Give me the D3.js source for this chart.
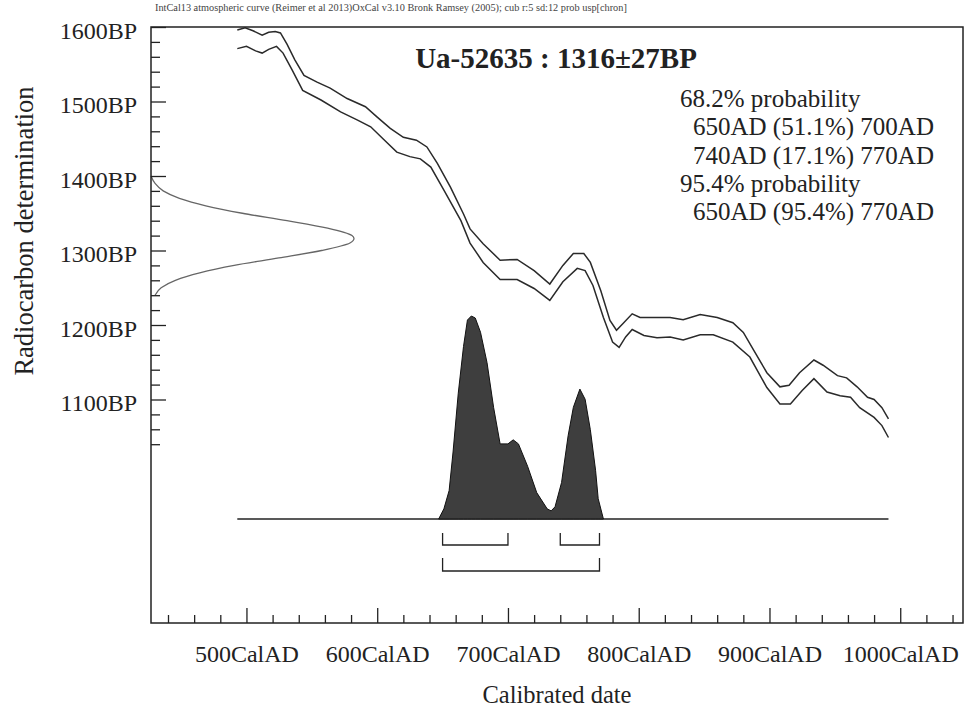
<!DOCTYPE html>
<html><head><meta charset="utf-8">
<script src="https://cdn.jsdelivr.net/npm/d3@7"></script>
<style>
body{margin:0;background:#fff}
svg{display:block}
text{font-family:"Liberation Serif","Times New Roman",serif;fill:#222}
</style>
</head><body>
<svg id="c" width="968" height="711"></svg>
<script>
// ---------- data ----------
const headerText = "IntCal13 atmospheric curve (Reimer et al 2013)OxCal v3.10 Bronk Ramsey (2005); cub r:5 sd:12 prob usp[chron]";
const titleText = "Ua-52635 : 1316\u00B127BP";
const xAxisTitle = "Calibrated date";
const yAxisTitle = "Radiocarbon determination";

const xDomain = [427, 1048];
const yDomain = [800, 1600];
const xTickYears = [500, 600, 700, 800, 900, 1000];
const xTickLabels = ["500CalAD", "600CalAD", "700CalAD", "800CalAD", "900CalAD", "1000CalAD"];
const xMinorStep = 20;
const yTickBP = [1600, 1500, 1400, 1300, 1200, 1100];
const yTickLabels = ["1600BP", "1500BP", "1400BP", "1300BP", "1200BP", "1100BP"];
const yMinorRange = [1040, 1600];
const yMinorStep = 20;

// calibration curve (mean + 1 sigma)
const upperYears = [493,499,505,512,517,522,526,531,537,544,554,564,577,591,600,610,620,630,638,646,656,666,671,681,694,707,720,732,742,750,758,763,771,778,783,788,795,801,814,824,834,847,860,872,880,888,898,908,915,923,934,941,952,959,967,975,980,986,991];
const upperBP    = [1596,1599,1595,1589,1593,1594,1592,1577,1556,1535,1526,1518,1504,1493,1479,1464,1452,1448,1439,1417,1385,1349,1329,1309,1287,1288,1273,1255,1280,1296,1296,1284,1246,1206,1193,1202,1215,1210,1210,1210,1207,1214,1210,1203,1190,1166,1136,1117,1119,1136,1153,1146,1132,1129,1117,1103,1100,1089,1074];
// calibration curve (mean - 1 sigma)
const lowerYears = [493,500,507,512,517,523,528,535,543,557,572,585,595,605,615,625,633,641,651,664,671,681,694,707,720,732,742,753,759,765,773,780,785,790,795,804,814,824,834,847,857,872,885,898,908,916,925,934,944,954,962,969,980,986,991];
const lowerBP    = [1571,1574,1568,1565,1570,1574,1565,1542,1515,1502,1486,1475,1466,1449,1432,1426,1423,1412,1381,1340,1310,1284,1261,1261,1249,1233,1258,1276,1273,1253,1210,1177,1170,1184,1194,1186,1183,1184,1180,1187,1187,1177,1157,1116,1094,1094,1112,1128,1110,1105,1103,1089,1076,1065,1049];

// measured radiocarbon date (relative probability on BP axis)
const gaussBP      = [1240,1250,1260,1270,1280,1290,1300,1310,1316,1320,1330,1340,1350,1360,1370,1380,1390,1400];
const gaussDensity = [0.02,0.05,0.12,0.24,0.41,0.63,0.84,0.98,1.00,0.99,0.87,0.67,0.45,0.27,0.14,0.06,0.02,0.0];

// calibrated date distribution (relative probability)
const probYears  = [647,651,655,658,662,666,669,672,675,679,684,689,694,700,704,708,715,722,730,733,736,741,746,750,755,759,763,767,769,773];
const probValues = [0,0.05,0.14,0.33,0.62,0.85,0.98,1.0,0.99,0.92,0.77,0.55,0.37,0.37,0.39,0.37,0.26,0.13,0.05,0.04,0.06,0.18,0.41,0.55,0.64,0.59,0.44,0.24,0.10,0];

const ranges68 = [[650, 700], [740, 770]];
const ranges95 = [[650, 770]];
const legendLines = [
  {text: "68.2% probability", indent: false},
  {text: "650AD (51.1%) 700AD", indent: true},
  {text: "740AD (17.1%) 770AD", indent: true},
  {text: "95.4% probability", indent: false},
  {text: "650AD (95.4%) 770AD", indent: true}
];

// ---------- layout ----------
const L = 151, R = 963, T = 27, B = 623;
const baseY = 519, probH = 203, gaussW = 203;
const svg = d3.select("#c");
const x = d3.scaleLinear().domain(xDomain).range([L, R]);
const y = d3.scaleLinear().domain(yDomain).range([B, T]);
const pY = d3.scaleLinear().domain([0, 1]).range([baseY, baseY - probH]);
const gX = d3.scaleLinear().domain([0, 1]).range([L, L + gaussW]);

// header
svg.append("text").attr("x", 155).attr("y", 11).attr("font-size", 10.3).style("fill", "#444").text(headerText);

// calibration curve lines
const line = d3.line().x(d => x(d[0])).y(d => y(d[1]));
svg.append("path").datum(upperYears.map((v, i) => [v, upperBP[i]]))
  .attr("d", line).attr("fill", "none").attr("stroke", "#2a2a2a").attr("stroke-width", 1.5);
svg.append("path").datum(lowerYears.map((v, i) => [v, lowerBP[i]]))
  .attr("d", line).attr("fill", "none").attr("stroke", "#2a2a2a").attr("stroke-width", 1.5);

// gaussian on y axis
svg.append("path").datum(gaussBP.map((v, i) => [gaussDensity[i], v]))
  .attr("d", d3.line().x(d => gX(d[0])).y(d => y(d[1])).curve(d3.curveMonotoneY))
  .attr("fill", "none").attr("stroke", "#666").attr("stroke-width", 1.3);

// baseline of distribution
svg.append("line").attr("x1", x(d3.min(upperYears))).attr("x2", x(d3.max(upperYears)))
  .attr("y1", baseY).attr("y2", baseY).attr("stroke", "#222").attr("stroke-width", 1.5);

// calibrated distribution
const area = d3.area().x(d => x(d[0])).y0(baseY).y1(d => pY(d[1]));
svg.append("path").datum(probYears.map((v, i) => [v, probValues[i]]))
  .attr("d", area).attr("fill", "#3e3e3e").attr("stroke", "#111").attr("stroke-width", 1);

// range brackets
function brackets(ranges, top, bot) {
  svg.append("g").selectAll("path").data(ranges).join("path")
    .attr("d", r => `M${x(r[0])},${top}V${bot}H${x(r[1])}V${top}`)
    .attr("fill", "none").attr("stroke", "#222").attr("stroke-width", 1.3);
}
brackets(ranges68, 533, 545);
brackets(ranges95, 558, 571);

// axes
const gx = svg.append("g").attr("transform", `translate(0,${B})`).attr("color", "#222")
  .call(d3.axisBottom(x).tickValues(xTickYears).tickSize(-15).tickPadding(22)
    .tickFormat((d, i) => xTickLabels[i]));
gx.select(".domain").remove();
gx.selectAll("text").attr("font-size", 24);
gx.selectAll("line").attr("stroke-width", 1.3);
const gxm = svg.append("g").attr("transform", `translate(0,${B})`).attr("color", "#222")
  .call(d3.axisBottom(x).tickValues(d3.range(440, xDomain[1], xMinorStep).filter(v => !xTickYears.includes(v)))
    .tickSize(-8).tickFormat(""));
gxm.select(".domain").remove();
gxm.selectAll("line").attr("stroke-width", 1.3);

const gy = svg.append("g").attr("transform", `translate(${L},0)`).attr("color", "#222")
  .call(d3.axisLeft(y).tickValues(yTickBP).tickSize(-15).tickPadding(14)
    .tickFormat((d, i) => yTickLabels[i]));
gy.select(".domain").remove();
gy.selectAll("text").attr("font-size", 24).attr("dy", "0.46em");
gy.selectAll("line").attr("stroke-width", 1.3);
const gym = svg.append("g").attr("transform", `translate(${L},0)`).attr("color", "#222")
  .call(d3.axisLeft(y).tickValues(d3.range(yMinorRange[0], yMinorRange[1] + 1, yMinorStep).filter(v => !yTickBP.includes(v)))
    .tickSize(-9).tickFormat(""));
gym.select(".domain").remove();
gym.selectAll("line").attr("stroke-width", 1.3);

// frame
svg.append("rect").attr("x", L).attr("y", T).attr("width", R - L).attr("height", B - T)
  .attr("fill", "none").attr("stroke", "#222").attr("stroke-width", 1.5);

// axis titles
svg.append("text").attr("x", (L + R) / 2).attr("y", 703).attr("text-anchor", "middle")
  .attr("font-size", 24.5).text(xAxisTitle);
svg.append("text").attr("transform", "translate(33,231) rotate(-90)").attr("text-anchor", "middle")
  .attr("font-size", 26.5).text(yAxisTitle);

// title
svg.append("text").attr("x", 556).attr("y", 68).attr("text-anchor", "middle")
  .attr("font-size", 29).attr("font-weight", "bold").text(titleText);

// legend
svg.append("g").selectAll("text").data(legendLines).join("text")
  .attr("x", d => d.indent ? 693 : 680)
  .attr("y", (d, i) => 107 + i * 28.3)
  .attr("font-size", 25)
  .text(d => d.text);
</script>
</body></html>
